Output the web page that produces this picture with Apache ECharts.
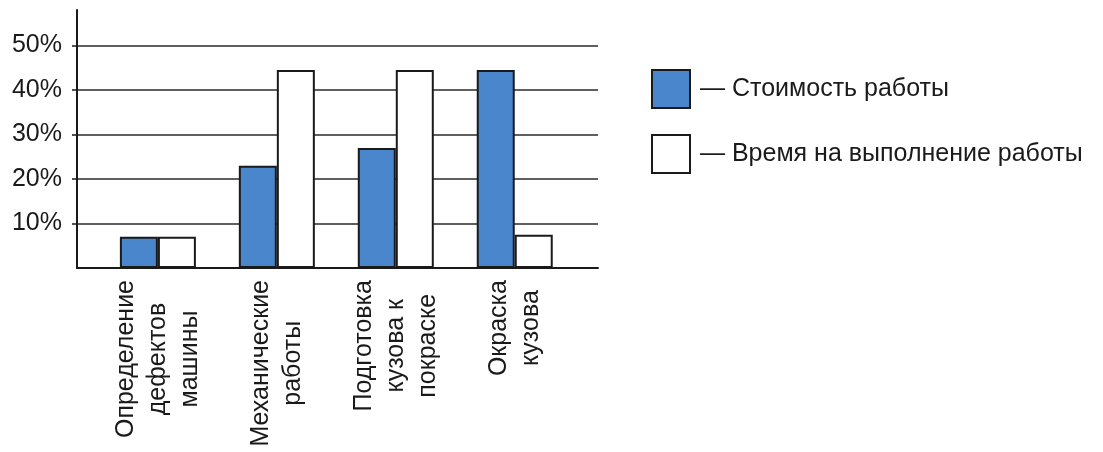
<!DOCTYPE html>
<html>
<head>
<meta charset="utf-8">
<script src="https://cdn.jsdelivr.net/npm/echarts@6/dist/echarts.min.js"></script>
<style>
  html, body { margin: 0; padding: 0; background: #fff; }
  #chart { width: 1103px; height: 452px; }
</style>
</head>
<body>
<div id="chart"></div>
<script>
const categories = [
  'Определение\nдефектов\nмашины',
  'Механические\nработы',
  'Подготовка\nкузова к\nпокраске',
  'Окраска\nкузова'
];
const seriesNames = ['Стоимость работы', 'Время на выполнение работы'];
const costValues = [7, 23, 27, 44.5];
const timeValues = [7, 44.5, 44.5, 7.5];
const yTickValues = [10, 20, 30, 40, 50];
const categoryPositions = [0, 1, 2, 3];

const FONT = '"Liberation Sans", Arial, sans-serif';
const INK = '#1a1a1a';
const BLUE = '#4a86cb';

const chart = echarts.init(document.getElementById('chart'), null, { renderer: 'canvas' });

function toPairs(vals) {
  return vals.map((v, i) => [categoryPositions[i], v]);
}

chart.setOption({
  backgroundColor: '#ffffff',
  animation: false,
  grid: { left: 77, right: 505, top: 10, bottom: 184, containLabel: false },
  legend: {
    orient: 'vertical',
    left: 651,
    top: 69,
    padding: 0,
    icon: 'rect',
    itemWidth: 38,
    itemHeight: 38,
    itemGap: 25,
    data: seriesNames,
    formatter: name => '— ' + name,
    textStyle: { fontFamily: FONT, fontSize: 25, color: INK, padding: [0, 0, 0, 5] }
  },
  xAxis: {
    type: 'value',
    min: -0.68,
    max: 3.7,
    axisLine: { show: true, onZero: false, lineStyle: { color: INK, width: 2 } },
    axisTick: { show: false },
    splitLine: { show: false },
    axisLabel: {
      customValues: categoryPositions,
      rotate: 90,
      margin: 12,
      formatter: v => {
        const lines = categories[Math.round(v)].split('\n');
        return lines.map(l => '{c|' + l + '}').join('\n');
      },
      rich: {
        c: { align: 'center', fontFamily: FONT, fontSize: 25, lineHeight: 32, color: INK }
      }
    }
  },
  yAxis: {
    type: 'value',
    min: 0,
    max: 58,
    axisLine: { show: true, onZero: false, lineStyle: { color: INK, width: 2 } },
    axisTick: { show: true, customValues: yTickValues, length: 5, lineStyle: { color: INK, width: 1.5 } },
    splitLine: { show: true, lineStyle: { color: '#2a2a2a', width: 1.5 } },
    axisLabel: {
      customValues: yTickValues,
      formatter: '{value}%',
      margin: 15,
      fontFamily: FONT,
      fontSize: 25,
      color: INK
    }
  },
  series: [
    {
      name: seriesNames[0],
      type: 'bar',
      data: toPairs(costValues),
      barWidth: 38,
      barGap: '0%',
      itemStyle: { color: BLUE, borderColor: INK, borderWidth: 2 }
    },
    {
      name: seriesNames[1],
      type: 'bar',
      data: toPairs(timeValues),
      barWidth: 38,
      barGap: '0%',
      itemStyle: { color: '#ffffff', borderColor: INK, borderWidth: 2 }
    }
  ]
});
</script>
</body>
</html>
